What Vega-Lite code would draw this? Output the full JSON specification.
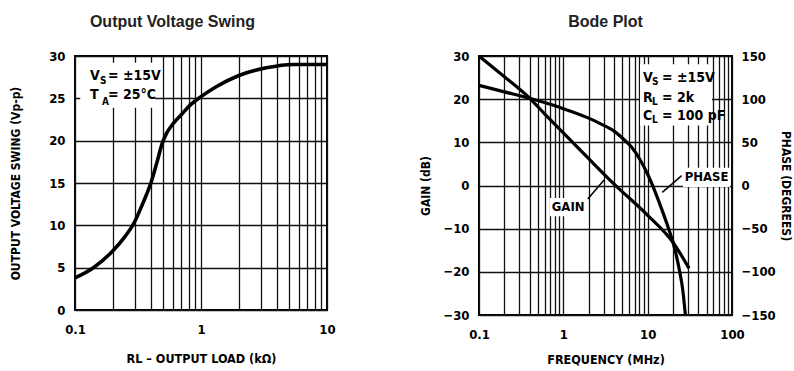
{
  "$schema": "https://vega.github.io/schema/vega-lite/v6.json",
  "padding": {"left": 8, "top": 12, "right": 0, "bottom": 2},
  "background": "white",
  "config": {
    "view": {"stroke": "#000", "strokeWidth": 2},
    "axis": {
      "labelFont": "DejaVu Sans Condensed, Liberation Sans, sans-serif", "labelFontWeight": "bold", "labelFontSize": 13, "labelColor": "#000",
      "titleFont": "DejaVu Sans Condensed, Liberation Sans, sans-serif", "titleFontWeight": "bold", "titleFontSize": 12, "titleColor": "#000",
      "ticks": false, "domain": false, "gridColor": "#111", "gridWidth": 1.3, "gridOpacity": 1,
      "labelOverlap": false, "labelFlush": false
    },
    "axisX": {"titleFontSize": 12.5},
    "title": {"font": "Liberation Sans", "fontWeight": "bold", "fontSize": 16, "color": "#222", "anchor": "middle", "frame": "bounds"}
  },
  "datasets": {
    "swing": [
      {"x": 0.1, "y": 3.8}, {"x": 0.14, "y": 5.0}, {"x": 0.2, "y": 7.0}, {"x": 0.25, "y": 8.7},
      {"x": 0.29, "y": 10.1}, {"x": 0.35, "y": 12.8}, {"x": 0.4, "y": 15.0}, {"x": 0.45, "y": 17.6},
      {"x": 0.49, "y": 19.6}, {"x": 0.53, "y": 20.8}, {"x": 0.6, "y": 22.0}, {"x": 0.7, "y": 23.1},
      {"x": 0.82, "y": 24.2}, {"x": 1.0, "y": 25.2}, {"x": 1.33, "y": 26.4}, {"x": 2.0, "y": 27.7},
      {"x": 3.3, "y": 28.6}, {"x": 5.4, "y": 29.0}, {"x": 10, "y": 29.0}
    ],
    "gain": [
      {"x": 0.1, "y": 30}, {"x": 0.2, "y": 25.2}, {"x": 0.4, "y": 20.2}, {"x": 0.6, "y": 16.6},
      {"x": 1.0, "y": 12.2}, {"x": 2.0, "y": 6.2}, {"x": 4.0, "y": 0.3}, {"x": 10, "y": -6.9},
      {"x": 20, "y": -13.2}, {"x": 31, "y": -19.2}
    ],
    "phase": [
      {"x": 0.1, "y": 116}, {"x": 0.2, "y": 108.5}, {"x": 0.4, "y": 101}, {"x": 0.7, "y": 94},
      {"x": 1.0, "y": 89}, {"x": 2.0, "y": 78}, {"x": 2.7, "y": 72}, {"x": 4.0, "y": 63},
      {"x": 5.0, "y": 55}, {"x": 6.5, "y": 44}, {"x": 8.0, "y": 31}, {"x": 10, "y": 13},
      {"x": 12, "y": -5}, {"x": 15, "y": -30}, {"x": 18, "y": -52}, {"x": 20, "y": -66},
      {"x": 22, "y": -82}, {"x": 24, "y": -100}, {"x": 26, "y": -120}, {"x": 28, "y": -150}
    ],
    "boxL": [{"x": 0.11, "x2": 0.43, "y": 23.9, "y2": 29.2}],
    "notesL": [
      {"x": 0.1315, "y": 27.65, "t": "V"}, {"x": 0.183, "y": 27.65, "t": "= ±15V"},
      {"x": 0.1315, "y": 25.35, "t": "T"}, {"x": 0.183, "y": 25.35, "t": "= 25°C"}
    ],
    "subsL": [{"x": 0.158, "y": 27.0, "t": "S"}, {"x": 0.164, "y": 24.6, "t": "A"}],
    "boxR": [
      {"x": 8.11, "x2": 57.9, "y": 13.9, "y2": 28.1},
      {"x": 0.69, "x2": 1.86, "y": -7.1, "y2": -2.9},
      {"x": 26.2, "x2": 94.5, "y": -0.35, "y2": 4.09}
    ],
    "notesR": [
      {"x": 8.81, "y": 24.87, "t": "V"}, {"x": 14.8, "y": 24.87, "t": "= ±15V"},
      {"x": 8.81, "y": 20.2, "t": "R"}, {"x": 14.8, "y": 20.2, "t": "= 2k"},
      {"x": 8.81, "y": 16.0, "t": "C"}, {"x": 14.8, "y": 16.0, "t": "= 100 pF"}
    ],
    "subsR": [
      {"x": 11.25, "y": 23.93, "t": "S"}, {"x": 11.25, "y": 19.26, "t": "L"}, {"x": 11.25, "y": 15.06, "t": "L"}
    ],
    "labelsR": [{"x": 1.14, "y": -5.0, "t": "GAIN"}, {"x": 49.9, "y": 2.0, "t": "PHASE"}],
    "leaders": [
      {"x": 1.95, "y": -3.15, "x2": 3.04, "y2": 1.29},
      {"x": 25.3, "y": 2.29, "x2": 14.9, "y2": -1.59}
    ]
  },
  "hconcat": [
    {
      "title": {"text": "Output Voltage Swing", "offset": 20},
      "width": 252,
      "height": 254,
      "layer": [
        {
          "data": {"name": "swing"},
          "mark": {"type": "line", "color": "#000", "strokeWidth": 3.6, "interpolate": "monotone"},
          "encoding": {
            "x": {"field": "x", "type": "quantitative",
              "scale": {"type": "log", "domain": [0.1, 10], "nice": false},
              "axis": {"title": "RL – OUTPUT LOAD (kΩ)", "values": [0.1,0.2,0.3,0.4,0.5,0.6,0.7,0.8,0.9,1,2,3,4,5,6,7,8,9,10],
                "labelExpr": "datum.value == 0.1 ? '0.1' : datum.value == 1 ? '1' : datum.value == 10 ? '10' : ''",
                "labelPadding": 13, "titlePadding": 16}},
            "y": {"field": "y", "type": "quantitative",
              "scale": {"domain": [0, 30], "nice": false},
              "axis": {"title": "OUTPUT VOLTAGE SWING (Vp-p)", "values": [0,5,10,15,20,25,30], "labelPadding": 10, "titlePadding": 26}}
          }
        },
        {
          "data": {"name": "boxL"},
          "mark": {"type": "rect", "color": "white"},
          "encoding": {
            "x": {"field": "x", "type": "quantitative"},
            "x2": {"field": "x2"},
            "y": {"field": "y", "type": "quantitative"},
            "y2": {"field": "y2"}
          }
        },
        {
          "data": {"name": "notesL"},
          "mark": {"type": "text", "align": "left", "baseline": "middle", "font": "DejaVu Sans Condensed, Liberation Sans, sans-serif", "fontWeight": "bold", "fontSize": 14, "color": "#000"},
          "encoding": {
            "x": {"field": "x", "type": "quantitative"},
            "y": {"field": "y", "type": "quantitative"},
            "text": {"field": "t"}
          }
        },
        {
          "data": {"name": "subsL"},
          "mark": {"type": "text", "align": "left", "baseline": "middle", "font": "DejaVu Sans Condensed, Liberation Sans, sans-serif", "fontWeight": "bold", "fontSize": 10, "color": "#000"},
          "encoding": {
            "x": {"field": "x", "type": "quantitative"},
            "y": {"field": "y", "type": "quantitative"},
            "text": {"field": "t"}
          }
        }
      ]
    },
    {
      "title": {"text": "Bode Plot", "offset": 20},
      "width": 253,
      "height": 259,
      "layer": [
        {
          "layer": [
            {
              "data": {"name": "gain"},
              "mark": {"type": "line", "color": "#000", "strokeWidth": 3.2, "interpolate": "monotone"},
              "encoding": {
                "x": {"field": "x", "type": "quantitative",
                  "scale": {"type": "log", "domain": [0.1, 100], "nice": false},
                  "axis": {"title": "FREQUENCY (MHz)", "values": [0.1,0.2,0.3,0.4,0.5,0.6,0.7,0.8,0.9,1,2,3,4,5,6,7,8,9,10,20,30,40,50,60,70,80,90,100],
                    "labelExpr": "datum.value == 0.1 ? '0.1' : datum.value == 1 ? '1' : datum.value == 10 ? '10' : datum.value == 100 ? '100' : ''",
                    "labelPadding": 13, "titlePadding": 12}},
                "y": {"field": "y", "type": "quantitative",
                  "scale": {"domain": [-30, 30], "nice": false},
                  "axis": {"title": "GAIN (dB)", "values": [-30,-20,-10,0,10,20,30], "labelPadding": 10, "titlePadding": 10}}
              }
            },
            {
              "data": {"name": "boxR"},
              "mark": {"type": "rect", "color": "white"},
              "encoding": {
                "x": {"field": "x", "type": "quantitative"},
                "x2": {"field": "x2"},
                "y": {"field": "y", "type": "quantitative"},
                "y2": {"field": "y2"}
              }
            },
            {
              "data": {"name": "leaders"},
              "mark": {"type": "rule", "color": "#000", "strokeWidth": 1.5},
              "encoding": {
                "x": {"field": "x", "type": "quantitative"},
                "x2": {"field": "x2"},
                "y": {"field": "y", "type": "quantitative"},
                "y2": {"field": "y2"}
              }
            },
            {
              "data": {"name": "notesR"},
              "mark": {"type": "text", "align": "left", "baseline": "middle", "font": "DejaVu Sans Condensed, Liberation Sans, sans-serif", "fontWeight": "bold", "fontSize": 14, "color": "#000"},
              "encoding": {
                "x": {"field": "x", "type": "quantitative"},
                "y": {"field": "y", "type": "quantitative"},
                "text": {"field": "t"}
              }
            },
            {
              "data": {"name": "subsR"},
              "mark": {"type": "text", "align": "left", "baseline": "middle", "font": "DejaVu Sans Condensed, Liberation Sans, sans-serif", "fontWeight": "bold", "fontSize": 10, "color": "#000"},
              "encoding": {
                "x": {"field": "x", "type": "quantitative"},
                "y": {"field": "y", "type": "quantitative"},
                "text": {"field": "t"}
              }
            },
            {
              "data": {"name": "labelsR"},
              "mark": {"type": "text", "align": "center", "baseline": "middle", "font": "DejaVu Sans Condensed, Liberation Sans, sans-serif", "fontWeight": "bold", "fontSize": 13, "color": "#000"},
              "encoding": {
                "x": {"field": "x", "type": "quantitative"},
                "y": {"field": "y", "type": "quantitative"},
                "text": {"field": "t"}
              }
            }
          ]
        },
        {
          "data": {"name": "phase"},
          "mark": {"type": "line", "color": "#000", "strokeWidth": 3.2, "interpolate": "monotone"},
          "encoding": {
            "x": {"field": "x", "type": "quantitative"},
            "y": {"field": "y", "type": "quantitative",
              "scale": {"domain": [-150, 150], "nice": false},
              "axis": {"title": "PHASE (DEGREES)", "orient": "right", "grid": false, "values": [-150,-100,-50,0,50,100,150], "labelPadding": 9, "titlePadding": 3}}
          }
        }
      ],
      "resolve": {"scale": {"y": "independent"}}
    }
  ],
  "spacing": 81
}
